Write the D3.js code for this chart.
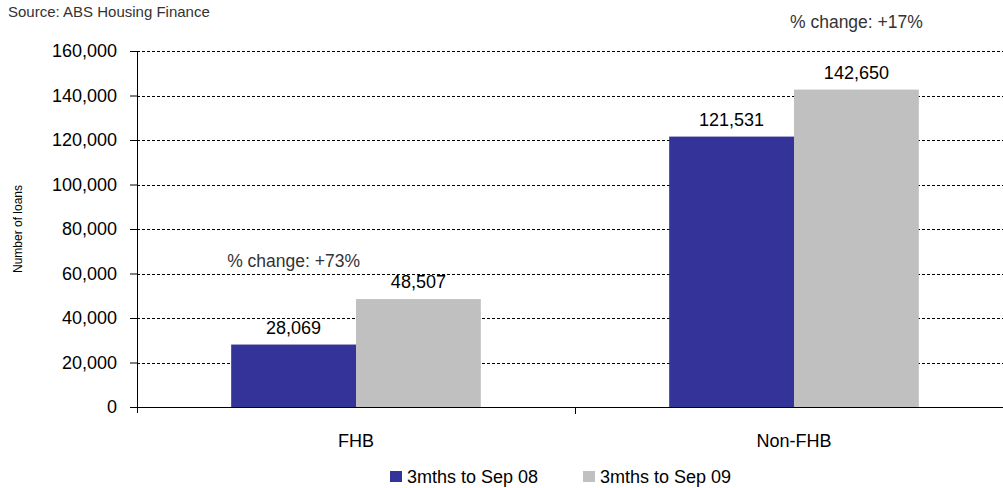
<!DOCTYPE html>
<html>
<head>
<meta charset="utf-8">
<script src="https://cdn.jsdelivr.net/npm/d3@7"></script>
<style>
  body { margin: 0; background: #fff; }
  svg { display: block; font-family: "Liberation Sans", Arial, sans-serif; }
  .grid line { stroke: #000; stroke-dasharray: 3,2; }
  .axis path, .axis line { stroke: #000; }
</style>
</head>
<body>
<svg id="chart" width="1003" height="488"></svg>
<script>
var categories = ["FHB", "Non-FHB"];
var seriesNames = ["3mths to Sep 08", "3mths to Sep 09"];
var sep08 = [28069, 121531];
var sep09 = [48507, 142650];
var changeLabels = ["% change: +73%", "% change: +17%"];
var yTicks = [0, 20000, 40000, 60000, 80000, 100000, 120000, 140000, 160000];
var colours = ["#333399", "#c0c0c0"];

var margin = {top: 51, right: -10, bottom: 81, left: 137};
var svg = d3.select("#chart"),
    width  = +svg.attr("width") - margin.left - margin.right,
    height = +svg.attr("height") - margin.top - margin.bottom;

var rows = categories.map(function(c, i) {
    return {cat: c, vals: [sep08[i], sep09[i]], change: changeLabels[i]};
});

var x0 = d3.scaleBand()
    .domain(categories)
    .range([0, width])
    .paddingInner(0.43)
    .paddingOuter(0.215);
var x1 = d3.scaleBand()
    .domain([0, 1])
    .range([0, x0.bandwidth()]);
var y = d3.scaleLinear()
    .domain([0, 160000])
    .range([height, 0]);

var g = svg.append("g")
    .attr("transform", "translate(" + margin.left + "," + margin.top + ")");

// dashed gridlines
g.append("g")
    .attr("class", "grid")
    .selectAll("line")
    .data(yTicks.filter(function(d) { return d > 0; }))
    .enter().append("line")
    .attr("x1", 0)
    .attr("x2", width)
    .attr("y1", function(d) { return Math.round(y(d)) + 0.5; })
    .attr("y2", function(d) { return Math.round(y(d)) + 0.5; });

// bars
var grp = g.selectAll(".grp")
    .data(rows)
    .enter().append("g")
    .attr("class", "grp")
    .attr("transform", function(d) { return "translate(" + x0(d.cat) + ",0)"; });

grp.selectAll("rect")
    .data(function(d) { return d.vals; })
    .enter().append("rect")
    .attr("x", function(d, i) { return x1(i); })
    .attr("y", function(d) { return y(d); })
    .attr("width", x1.bandwidth())
    .attr("height", function(d) { return height - y(d); })
    .attr("fill", function(d, i) { return colours[i]; });

grp.selectAll(".val")
    .data(function(d) { return d.vals; })
    .enter().append("text")
    .attr("class", "val")
    .attr("x", function(d, i) { return x1(i) + x1.bandwidth() / 2; })
    .attr("y", function(d) { return y(d) - 11; })
    .attr("text-anchor", "middle")
    .attr("font-size", 18)
    .attr("fill", "#000")
    .text(function(d) { return d3.format(",")(d); });

// % change notes, the first sits over the FHB blue bar, the second over the Non-FHB grey bar
grp.append("text")
    .attr("x", function(d, i) { return x1(i) + x1.bandwidth() / 2; })
    .attr("y", function(d, i) { return y(d.vals[1]) - (i === 0 ? 32 : 62); })
    .attr("text-anchor", "middle")
    .attr("font-size", 17.5)
    .attr("fill", "#333")
    .text(function(d) { return d.change; });

// axes
var yAxis = g.append("g")
    .attr("class", "axis")
    .call(d3.axisLeft(y).tickValues(yTicks).tickSize(7).tickPadding(13).tickFormat(d3.format(",")));
yAxis.select(".domain").attr("d", "M0.5," + (height + 6) + "V0.5");
yAxis.selectAll("text").attr("font-size", 18).attr("fill", "#000").attr("font-family", "Liberation Sans, Arial, sans-serif");

var xAxis = g.append("g")
    .attr("class", "axis")
    .attr("transform", "translate(0," + height + ")");
xAxis.append("line").attr("x1", 0).attr("x2", width).attr("y1", 0.5).attr("y2", 0.5);
xAxis.selectAll(".sep")
    .data([x0.step()])
    .enter().append("line")
    .attr("x1", function(d) { return Math.round(d) + 0.5; })
    .attr("x2", function(d) { return Math.round(d) + 0.5; })
    .attr("y1", 0).attr("y2", 7);
xAxis.selectAll(".cat")
    .data(categories)
    .enter().append("text")
    .attr("x", function(d) { return x0(d) + x0.bandwidth() / 2; })
    .attr("y", 40)
    .attr("text-anchor", "middle")
    .attr("font-size", 18)
    .attr("fill", "#000")
    .text(function(d) { return d; });

// titles
svg.append("text")
    .attr("transform", "translate(22," + (margin.top + height / 2) + ") rotate(-90)")
    .attr("text-anchor", "middle")
    .attr("font-size", 12)
    .attr("fill", "#000")
    .text("Number of loans");

svg.append("text")
    .attr("x", 8)
    .attr("y", 17)
    .attr("font-size", 15)
    .attr("fill", "#333")
    .text("Source: ABS Housing Finance");

// legend
var legend = svg.append("g").attr("transform", "translate(390,471)");
var li = legend.selectAll("g")
    .data(seriesNames)
    .enter().append("g")
    .attr("transform", function(d, i) { return "translate(" + (i * 193) + ",0)"; });
li.append("rect").attr("width", 12).attr("height", 11).attr("fill", function(d, i) { return colours[i]; });
li.append("text")
    .attr("x", 17)
    .attr("y", 12)
    .attr("font-size", 18)
    .attr("fill", "#000")
    .text(function(d) { return d; });
</script>
</body>
</html>
